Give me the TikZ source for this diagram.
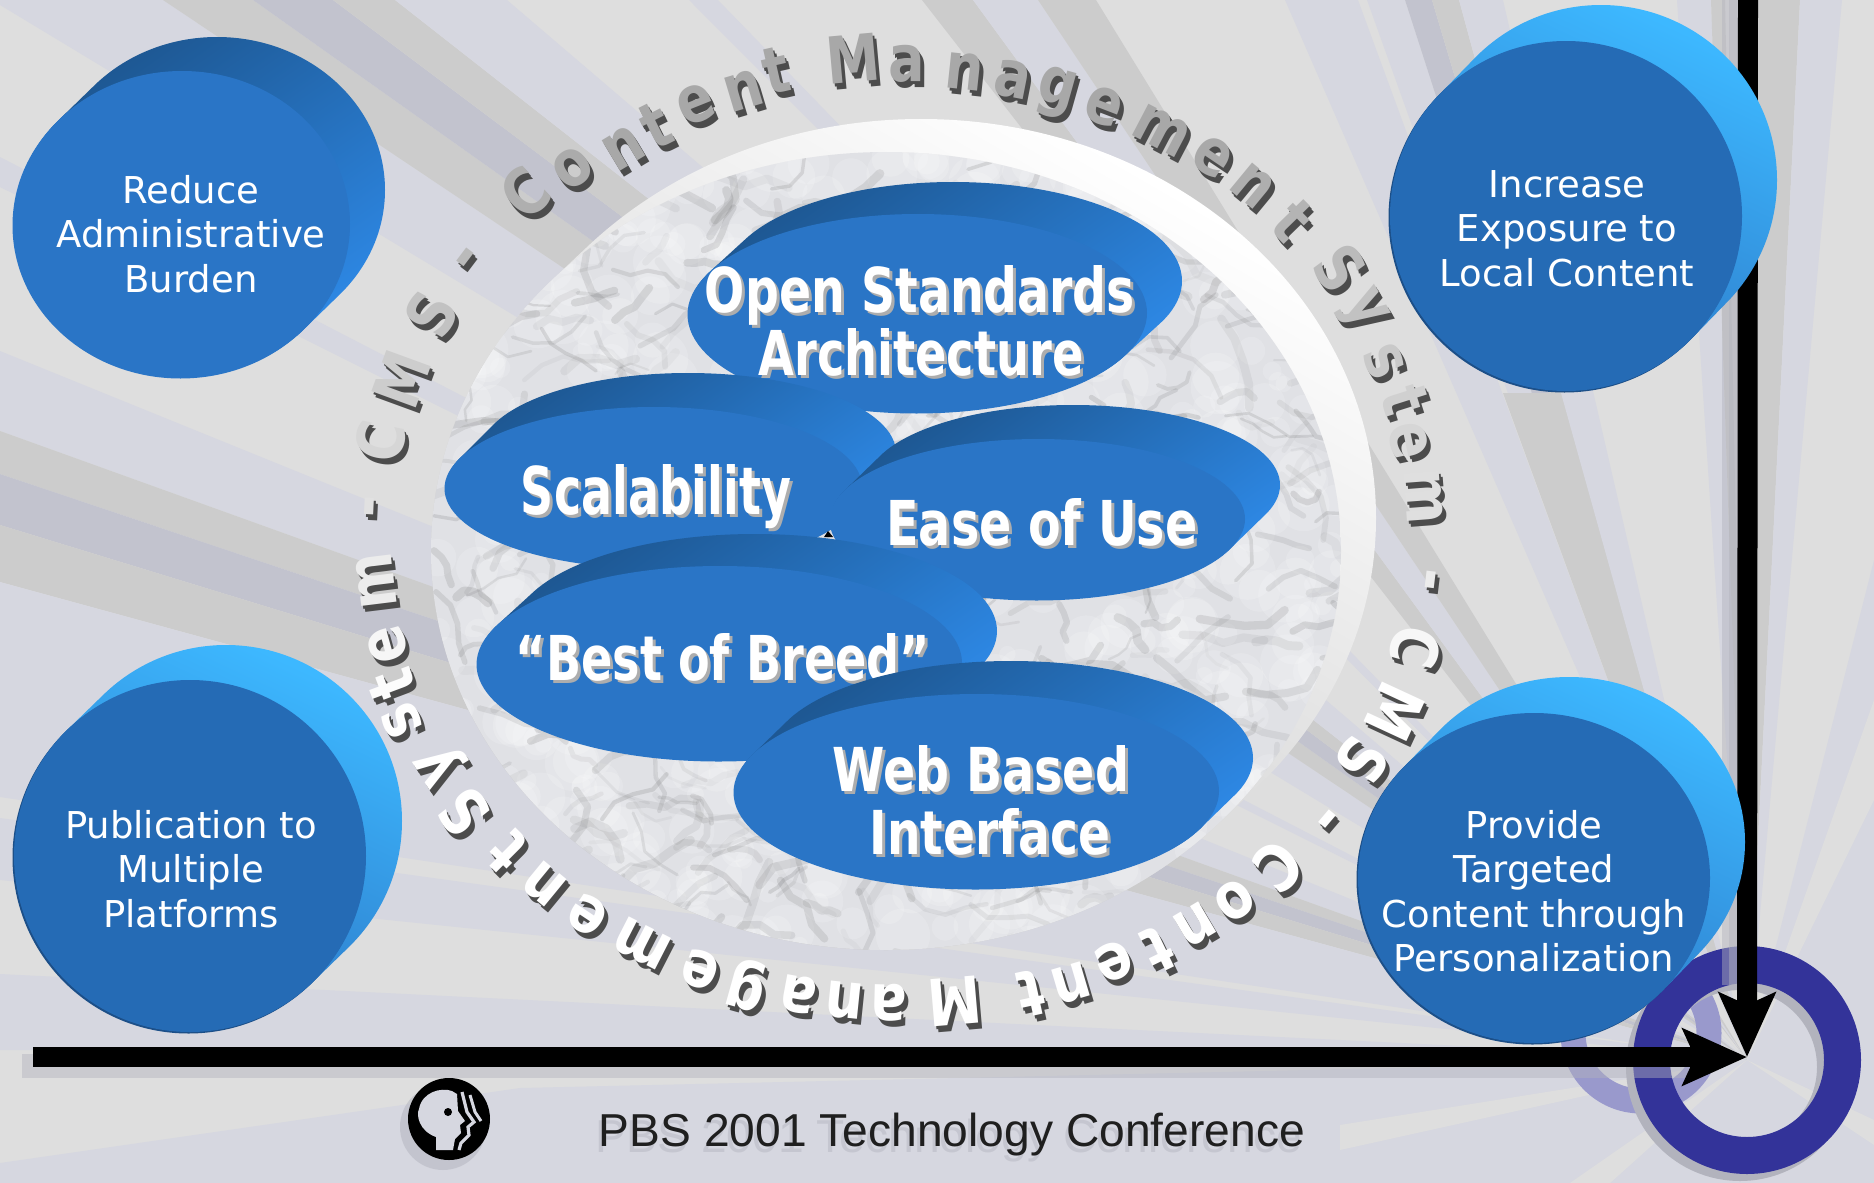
\documentclass[tikz,border=0pt]{standalone}
\usepackage{fontspec}
\usepackage{graphicx}
\setmainfont{DejaVu Sans}
\newfontfamily\capfont{Liberation Sans}
\usetikzlibrary{arrows.meta,shadings}
\definecolor{bgbase}{HTML}{DEDEDE}
\definecolor{lav}{HTML}{D6D7E0}
\definecolor{greyray}{HTML}{CCCCCC}
\definecolor{slateray}{HTML}{C2C3CE}
\definecolor{ringdark}{HTML}{333399}
\definecolor{ringpale}{HTML}{9999CC}
\definecolor{frontA}{HTML}{2A75C6}
\definecolor{frontB}{HTML}{256BB5}
\definecolor{edgeB}{HTML}{1C4F88}
\definecolor{shadowline}{HTML}{B2B3BD}
\definecolor{marble}{HTML}{E0E1E5}
\definecolor{HTMLa}{HTML}{1D5690}
\definecolor{HTMLb}{HTML}{2E8AE8}
\definecolor{HTMLc}{HTML}{3DB8FF}
\definecolor{HTMLd}{HTML}{3399FF}
\definecolor{HTMLe}{HTML}{2A70C0}
\definecolor{HTMLf}{HTML}{C4C4C4}
\tikzset{
  sidedark/.style={top color=HTMLa,bottom color=HTMLb,shading angle=35},
  sidebright/.style={top color=HTMLc,middle color=HTMLd,bottom color=HTMLe,shading angle=-25},
  sidewhite/.style={top color=white,middle color=white,bottom color=HTMLf,shading angle=-30},
  circletext/.style={text=white,align=center,inner sep=0pt,font=\fontsize{37}{44.5}\selectfont},
  mainarrow/.style={black,line width=20pt,-{Stealth[length=64pt,width=56pt,inset=12pt]}},
  linkshadow/.style={shadowline,opacity=.45,line width=#1},
  letterbase/.style={inner sep=0pt,font=\fontsize{54}{54}\selectfont\bfseries},
  ringline/.style={line width=#1,draw}
}
\newcommand{\puck}[9]{%
  \shade[#7] \foreach \k in {0,...,30} { ({#1+#5*\k/30},{#2+#6*\k/30}) ellipse ({#3} and {#4}) };
  \fill[#9] ({#1-1.5},{#2+1.5}) ellipse ({#3} and {#4});
  \fill[#8] (#1,#2) ellipse ({#3} and {#4});
}
\newcommand{\ovaltext}[6]{%
  \node[anchor=base,inner sep=0pt,text=black!32] at ({#2+3},{#3+3}) {\resizebox{#4pt}{#5pt}{\bfseries #6}};
  \node[anchor=base,inner sep=0pt,text=white] (#1) at (#2,#3) {\resizebox{#4pt}{#5pt}{\bfseries #6}};
}
\newcommand{\rayfan}[3]{\fill[#1] (ringc) -- #2 -- #3 -- cycle;}
\begin{document}
\begin{tikzpicture}[x=1pt,y=-1pt]
\path[use as bounding box] (0,0) rectangle (1874,1183);
\clip (0,0) rectangle (1874,1183);
\coordinate (ringc) at (1747,1060);
\fill[bgbase] (0,0) rectangle (1874,1183);
% background rays from the ring
\fill[lav] (ringc) -- (0,5) -- (0,0) -- (163,0) -- cycle;
\rayfan{greyray}{(163,0)}{(253,0)}
\rayfan{slateray}{(253,0)}{(333,0)}
\rayfan{greyray}{(333,0)}{(395,0)}
\rayfan{lav}{(395,0)}{(507,0)}
\rayfan{lav}{(689,0)}{(718,0)}
\rayfan{greyray}{(922,0)}{(973,0)}
\rayfan{lav}{(973,0)}{(1038,0)}
\rayfan{greyray}{(1038,0)}{(1096,0)}
\rayfan{lav}{(1285,0)}{(1358,0)}
\rayfan{lav}{(1367,0)}{(1405,0)}
\rayfan{slateray}{(1405,0)}{(1432,0)}
\rayfan{greyray}{(1432,0)}{(1459,0)}
\rayfan{lav}{(1459,0)}{(1503,0)}
\rayfan{greyray}{(1503,393)}{(1561,393)}
\rayfan{lav}{(1561,393)}{(1592,393)}
\rayfan{lav}{(1677,0)}{(1711,0)}
\rayfan{greyray}{(1711,0)}{(1725,0)}
\rayfan{greyray}{(1757,0)}{(1800,0)}
\rayfan{lav}{(1800,0)}{(1842,0)}
\rayfan{lav}{(0,157)}{(0,187)}
\rayfan{lav}{(0,351)}{(0,431)}
\rayfan{greyray}{(0,431)}{(0,474)}
\rayfan{slateray}{(0,474)}{(0,525)}
\rayfan{greyray}{(0,525)}{(0,582)}
\rayfan{lav}{(0,582)}{(0,797)}
\rayfan{lav}{(0,818)}{(0,880)}
\rayfan{lav}{(0,974)}{(0,1050)}
\fill[lav] (ringc) -- (1874,560) -- (1874,1183) -- (0,1183) -- (0,1163) -- (520,1088) -- cycle;
\fill[bgbase] (ringc) -- (1874,700) -- (1874,800) -- cycle;
\fill[bgbase] (ringc) -- (1874,1120) -- (1874,1145) -- cycle;
\fill[bgbase] (ringc) -- (1610,1183) -- (1570,1183) -- cycle;
\fill[bgbase] (ringc) -- (1340,1125) -- (1340,1150) -- cycle;
% rings and their shadows
\draw[ringline=25pt,ringpale] (1641,1033) circle (68);
\draw[ringline=37pt,shadowline] (1740,1067) circle (95.5);
\draw[ringline=37pt,ringdark] (1747,1060) circle (95.5);
% connectors
\coordinate (hstart) at (33,1057);
\coordinate (vstart) at (1748,-5);
\coordinate (tip) at (1747,1057);
\draw[linkshadow=24pt] (22,1066) -- (1690,1066);
\draw[linkshadow=18pt] (1731,0) -- (1731,985);
\draw[linkshadow=10pt] (1734,0) -- (1734,985);
\draw[mainarrow] (hstart) -- (tip);
\draw[mainarrow] (vstart) -- (tip);
% central disc
\shade[sidewhite] \foreach \k in {0,...,30} { ({886+35*\k/30},{551-33*\k/30}) ellipse (455 and 399) };
\begin{scope}
  \clip (886,551) ellipse (455 and 399);
  \fill[marble] (431,152) rectangle (1341,950);
  \pgfmathsetseed{42}
  \foreach \i in {1,...,800}{
    \pgfmathsetmacro\mx{431+910*rnd}
    \pgfmathsetmacro\my{152+798*rnd}
    \pgfmathsetmacro\mr{8+20*rnd}
    \fill[white,opacity=.16] (\mx,\my) circle (\mr);
  }
  \foreach \i in {1,...,600}{
    \pgfmathsetmacro\mx{431+910*rnd}
    \pgfmathsetmacro\my{152+798*rnd}
    \pgfmathsetmacro\ma{-60+130*rnd}
    \pgfmathsetmacro\mb{\ma+100*rnd-50}
    \pgfmathsetmacro\mc{\mb+100*rnd-50}
    \pgfmathsetmacro\md{\mc+100*rnd-50}
    \pgfmathsetmacro\ml{8+16*rnd}
    \pgfmathsetmacro\mw{2+7*rnd}
    \pgfmathsetmacro\mo{.04+.14*rnd}
    \draw[black!60,line width=\mw pt,opacity=\mo,line cap=round,line join=round]
      (\mx,\my) -- ++(\ma:\ml) -- ++(\mb:\ml) -- ++(\mc:\ml) -- ++(\md:\ml);
  }
\end{scope}
% curved title, one letter at a time
\foreach \l/\x/\y in {C/525/193,o/573/168,n/624/148,t/656/125,e/696/104,n/744/91,t/776/70,
  M/853/59,a/907/64,n/965/71,a/1013/80,g/1056/93,e/1104/107,m/1162/130,e/1213/157,n/1253/186,t/1293/221,
  S/1340/268,y/1362/311,s/1384/361,t/1405/400,e/1409/441,m/1424/496,
  -/1424/579,C/1416/647,M/1395/712,S/1362/761,-/1322/815,
  C/1278/866,o/1235/901,n/1195/925,t/1158/950,e/1114/962,n/1071/983,t/1031/993,
  M/955/1001,a/889/1003,n/845/1001,a/798/995,g/747/985,e/700/970,m/642/944,e/587/915,n/544/884,t/507/851,
  S/464/812,y/442/763,s/402/720,t/392/684,e/388/645,m/376/581,
  -/376/507,C/380/441,M/402/379,S/431/314,-/471/262}{
  \pgfmathsetmacro\rot{atan2(-(\x-905)/100,-(\y-528)*1.234/100)}
  \pgfmathsetmacro\g{min(100,max(66,66+(\y-150)/550*34))}
  \node[letterbase,rotate=\rot,text=black!70] at ({\x+2},{\y+3}) {\scalebox{1}[1.2]{\l}};
  \node[letterbase,rotate=\rot,text=black!70] at ({\x+4},{\y+6}) {\scalebox{1}[1.2]{\l}};
  \node[letterbase,rotate=\rot,text=white!\g!black] at (\x,\y) {\scalebox{1}[1.2]{\l}};
}
% ovals on the disc
\puck{918}{313}{229}{99}{35}{-32}{sidedark}{frontA}{frontA}
\ovaltext{open1}{920}{312}{430}{47}{Open Standards}
\ovaltext{open2}{921}{375}{325}{47}{Architecture}
\puck{654}{487}{208}{80}{34}{-34}{sidedark}{frontA}{frontA}
\ovaltext{scal}{656}{514}{270}{50}{Scalability}
\fill[black] (824,537) -- (828,531) -- (833,537) -- cycle;
\puck{1038}{519}{207}{80}{35}{-34}{sidedark}{frontA}{frontA}
\ovaltext{ease}{1042}{545}{311}{47}{Ease of Use}
\puck{720}{663}{242}{97}{35}{-32}{sidedark}{frontA}{frontA}
\ovaltext{best}{723}{680}{414}{47}{“Best of Breed”}
\puck{977}{791}{242}{97}{34}{-33}{sidedark}{frontA}{frontA}
\ovaltext{web1}{981}{791}{296}{46}{Web Based}
\ovaltext{web2}{990}{854}{241}{46}{Interface}
% corner discs
\puck{182}{224}{168}{153}{35}{-34}{sidedark}{frontA}{frontA}
\node[circletext] (reduce) at (191,239) {\strut Reduce\\\strut Administrative\\\strut Burden};
\puck{1566}{216}{176}{175}{35}{-36}{sidebright}{frontB}{edgeB}
\node[circletext] (increase) at (1567,233) {\strut Increase\\\strut Exposure to\\\strut Local Content};
\puck{190}{856}{176}{176}{36}{-35}{sidebright}{frontB}{edgeB}
\node[circletext] (publication) at (191,874) {\strut Publication to\\\strut Multiple\\\strut Platforms};
\puck{1534}{878}{176}{165}{35}{-36}{sidebright}{frontB}{edgeB}
\node[circletext] (provide) at (1534,896) {\strut Provide\\\strut Targeted\\\strut Content through\\\strut Personalization};
% PBS logo
\fill[shadowline,opacity=.5] (443,1127) circle (43);
\begin{scope}[shift={(449,1119)}]
  \fill[black] (0,0) circle (41);
  \fill[lav] (-13,31) -- (-13,18) .. controls (-30,12) and (-33,-4) .. (-30,-10)
     .. controls (-27,-27) and (-8,-32) .. (3,-28) -- (8,-25) -- (9,-8) -- (16,2) -- (11,6)
     -- (12,14) -- (6,20) -- (4,31) -- cycle;
  \fill[black] (-1,-7) circle (4);
  \draw[lav,line width=3.2pt] (13,-27) -- (18,-7) -- (25,3) -- (19,8) -- (20,16) -- (12,24) -- (10,31);
  \draw[lav,line width=3pt] (21,-24) -- (26,-7) -- (32,2);
\end{scope}
% caption
\node[anchor=base,inner sep=0pt,text=shadowline,opacity=.45] at (949,1152)
   {\resizebox{706pt}{!}{\capfont PBS 2001 Technology Conference}};
\node[anchor=base,inner sep=0pt,text=black!88] (caption) at (952,1146)
   {\resizebox{706pt}{!}{\capfont PBS 2001 Technology Conference}};
\end{tikzpicture}
\end{document}
